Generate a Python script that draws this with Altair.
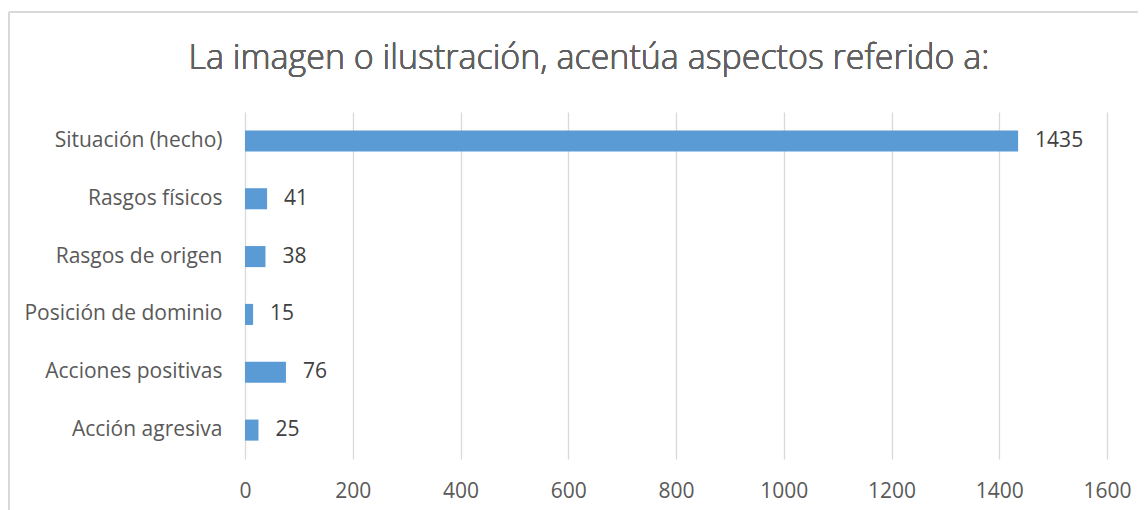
import altair as alt
import pandas as pd

categories = ["Situación (hecho)", "Rasgos físicos", "Rasgos de origen",
              "Posición de dominio", "Acciones positivas", "Acción agresiva"]
values = [1435, 41, 38, 15, 76, 25]
x_ticks = [0, 200, 400, 600, 800, 1000, 1200, 1400, 1600]
title_text = "La imagen o ilustración, acentúa aspectos referido a:"

df = pd.DataFrame({"cat": categories, "val": values})

FONT = "Open Sans"
TXT = "#595959"
FS = 21

y_enc = alt.Y("cat:N", sort=categories, title=None,
              scale=alt.Scale(paddingInner=0.636, paddingOuter=0.318),
              axis=alt.Axis(domain=False, ticks=False, labelPadding=23,
                            labelFontSize=FS, labelColor=TXT, labelFont=FONT,
                            labelLimit=300))
x_enc = alt.X("val:Q", title=None,
              scale=alt.Scale(domain=[0, 1600], nice=False),
              axis=alt.Axis(values=x_ticks, format="d", domain=False, ticks=False,
                            labelFlush=False, labelBound=False,
                            labelPadding=21, labelFontSize=FS, labelColor=TXT,
                            labelFont=FONT, grid=True, gridColor="#D9D9D9",
                            gridWidth=1.3))

bars = alt.Chart(df).mark_bar(color="#5B9BD5").encode(x=x_enc, y=y_enc)
labels = alt.Chart(df).mark_text(align="left", baseline="middle", dx=17,
                                 fontSize=FS, font=FONT, color="#404040").encode(
    x="val:Q", y=alt.Y("cat:N", sort=categories), text="val:Q")

title = alt.Chart(df).mark_text(align="center", baseline="alphabetic",
                                fontSize=34, font=FONT, fontWeight=300,
                                color="#606060").encode(
    x=alt.value(344), y=alt.value(-43), text=alt.value(title_text))

frame_top = alt.Chart(df).mark_rule(color="#D9D9D9", strokeWidth=1.5).encode(
    x=alt.value(-236), x2=alt.value(920), y=alt.value(-100))
frame_left = alt.Chart(df).mark_rule(color="#D9D9D9", strokeWidth=1.5).encode(
    x=alt.value(-236), y=alt.value(-100), y2=alt.value(420))

chart = alt.layer(frame_top, frame_left, bars, labels, title).properties(
    width=862, height=347,
    padding={"left": 237, "top": 104, "right": 31, "bottom": 51},
    autosize=alt.AutoSizeParams(type="none"),
).configure_view(stroke=None)

chart.save("out.html", embed_options={"renderer": "svg", "actions": False})
